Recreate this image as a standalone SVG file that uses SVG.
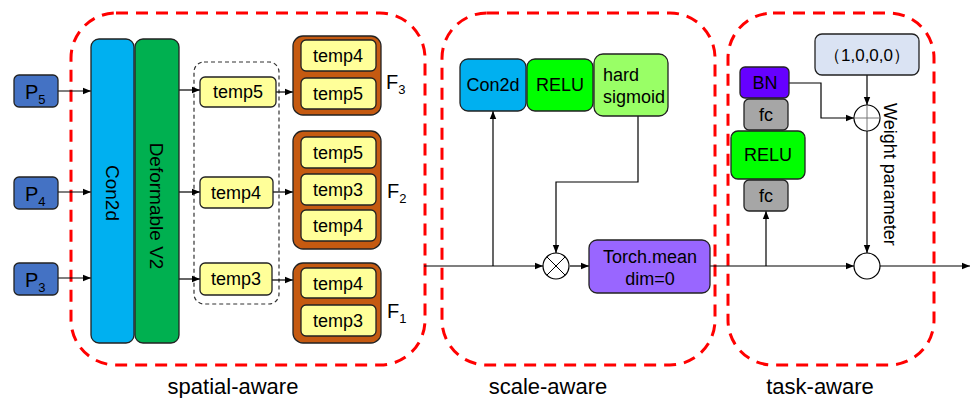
<svg xmlns="http://www.w3.org/2000/svg" width="976" height="398" viewBox="0 0 976 398">
<defs>
<marker id="ah" markerWidth="8" markerHeight="8" refX="8" refY="4" orient="auto" markerUnits="userSpaceOnUse"><path d="M0,0.8 L8,4 L0,7.2 Z" fill="#000"/></marker>
<style>
text{font-family:"Liberation Sans",Arial,sans-serif;fill:#000}
.red{fill:none;stroke:#FF0000;stroke-width:3;stroke-dasharray:12,8}
.box{stroke:#222;stroke-width:1.3}
.p{fill:#4472C4}
.t{fill:#FFFF99}
.br{fill:#C55A11}
.ar{fill:none;stroke:#000;stroke-width:1.2;marker-end:url(#ah)}
.lbl{font-size:22px;text-anchor:middle}
.tt{font-size:18px;text-anchor:middle}
.sub{font-size:13px}
</style>
</defs>
<rect width="976" height="398" fill="#fff"/>
<g id="regions">
<rect class="red" x="71" y="13" width="354" height="352" rx="45"/>
<rect class="red" x="442" y="13" width="273" height="352" rx="45"/>
<rect class="red" x="728" y="13" width="206" height="352" rx="45"/>
<rect x="194" y="62" width="85" height="242" rx="10" fill="none" stroke="#333" stroke-width="1.2" stroke-dasharray="4,3"/>
<text class="lbl" x="233" y="394">spatial-aware</text>
<text class="lbl" x="548" y="394">scale-aware</text>
<text class="lbl" x="820" y="394">task-aware</text>
</g>
<g id="connectors">
<line class="ar" x1="58" y1="91" x2="91" y2="91"/>
<line class="ar" x1="58" y1="192" x2="91" y2="192"/>
<line class="ar" x1="58" y1="278" x2="91" y2="278"/>
<line class="ar" x1="179" y1="90" x2="200" y2="90"/>
<line class="ar" x1="179" y1="192" x2="200" y2="192"/>
<line class="ar" x1="179" y1="279" x2="200" y2="279"/>
<line class="ar" x1="276" y1="92" x2="293" y2="92"/>
<line class="ar" x1="273" y1="192" x2="293" y2="192"/>
<line class="ar" x1="272" y1="280" x2="293" y2="280"/>
<line class="ar" x1="424" y1="266" x2="543" y2="266"/>
<line class="ar" x1="493" y1="266" x2="493" y2="111"/>
<polyline class="ar" points="638,116 638,182 556,182 556,253"/>
<line class="ar" x1="570" y1="266" x2="589" y2="266"/>
<line class="ar" x1="710" y1="266" x2="854" y2="266"/>
<line class="ar" x1="766" y1="266" x2="766" y2="211"/>
<polyline class="ar" points="789,83 821,83 821,118 854,118"/>
<line class="ar" x1="867" y1="75" x2="867" y2="105"/>
<line class="ar" x1="867" y1="131" x2="867" y2="253"/>
<line class="ar" x1="880" y1="266" x2="970" y2="266"/>
</g>
<g id="P5"><rect class="box p" x="14" y="75" width="44" height="32" rx="5"/><text x="25" y="99" font-size="20">P<tspan class="sub" dy="5">5</tspan></text></g>
<g id="P4"><rect class="box p" x="14" y="177" width="44" height="32" rx="5"/><text x="25" y="201" font-size="20">P<tspan class="sub" dy="5">4</tspan></text></g>
<g id="P3"><rect class="box p" x="14" y="263" width="44" height="32" rx="5"/><text x="25" y="287" font-size="20">P<tspan class="sub" dy="5">3</tspan></text></g>
<g id="con2d"><rect class="box" x="91" y="39" width="43" height="304" rx="8" fill="#00B0F0"/><text font-size="19" text-anchor="middle" transform="translate(106,193) rotate(90)">Con2d</text></g>
<g id="deform"><rect class="box" x="135" y="39" width="44" height="304" rx="8" fill="#00B050"/><text font-size="19" text-anchor="middle" transform="translate(150,206) rotate(90)">Deformable V2</text></g>
<g id="temp5"><rect class="box t" x="200" y="77" width="76" height="30" rx="5"/><text class="tt" x="238" y="98">temp5</text></g>
<g id="temp4"><rect class="box t" x="200" y="177" width="73" height="31" rx="5"/><text class="tt" x="236" y="199">temp4</text></g>
<g id="temp3"><rect class="box t" x="200" y="263" width="72" height="32" rx="5"/><text class="tt" x="236" y="285">temp3</text></g>
<g id="F3">
<rect class="box br" x="293" y="36" width="88" height="79" rx="10"/>
<rect class="box t" x="301" y="40" width="75" height="31" rx="5"/><text class="tt" x="338" y="62">temp4</text>
<rect class="box t" x="301" y="78" width="75" height="31" rx="5"/><text class="tt" x="338" y="100">temp5</text>
<text x="386" y="89" font-size="20">F<tspan class="sub" dy="5">3</tspan></text>
</g>
<g id="F2">
<rect class="box br" x="293" y="131" width="88" height="118" rx="10"/>
<rect class="box t" x="301" y="137" width="75" height="31" rx="5"/><text class="tt" x="338" y="159">temp5</text>
<rect class="box t" x="301" y="174" width="75" height="31" rx="5"/><text class="tt" x="338" y="196">temp3</text>
<rect class="box t" x="301" y="210" width="75" height="31" rx="5"/><text class="tt" x="338" y="232">temp4</text>
<text x="387" y="198" font-size="20">F<tspan class="sub" dy="5">2</tspan></text>
</g>
<g id="F1">
<rect class="box br" x="293" y="263" width="88" height="80" rx="10"/>
<rect class="box t" x="301" y="268" width="75" height="30" rx="5"/><text class="tt" x="338" y="290">temp4</text>
<rect class="box t" x="301" y="305" width="75" height="31" rx="5"/><text class="tt" x="338" y="327">temp3</text>
<text x="387" y="318" font-size="20">F<tspan class="sub" dy="5">1</tspan></text>
</g>
<g id="s-con2d"><rect class="box" x="460" y="59" width="66" height="52" rx="8" fill="#00B0F0"/><text class="tt" x="493" y="91">Con2d</text></g>
<g id="s-relu"><rect class="box" x="527" y="59" width="66" height="52" rx="8" fill="#00FF00"/><text class="tt" x="560" y="91">RELU</text></g>
<g id="s-hsig"><rect class="box" x="594" y="54" width="74" height="62" rx="9" fill="#99FF66"/><text x="603" y="81" font-size="18">hard</text><text x="603" y="103" font-size="18">sigmoid</text></g>
<g id="mult"><circle cx="556" cy="266" r="13" fill="#fff" stroke="#000" stroke-width="1.2"/><path d="M546.8,256.8 L565.2,275.2 M565.2,256.8 L546.8,275.2" stroke="#000" stroke-width="1"/></g>
<g id="torchmean"><rect class="box" x="589" y="240" width="121" height="53" rx="8" fill="#9966FF"/><text class="tt" x="650" y="263">Torch.mean</text><text class="tt" x="650" y="285">dim=0</text></g>
<g id="vec"><rect class="box" x="815" y="34" width="104" height="41" rx="7" fill="#DAE3F3"/><text x="867" y="61" font-size="17" text-anchor="middle" font-family="'Liberation Sans','Noto Sans CJK SC',sans-serif">（1,0,0,0）</text></g>
<g id="bn"><rect class="box" x="740" y="67" width="49" height="31" rx="5" fill="#6600FF"/><text class="tt" x="765" y="89">BN</text></g>
<g id="fc1"><rect class="box" x="744" y="99" width="44" height="31" rx="5" fill="#A6A6A6"/><text class="tt" x="766" y="121">fc</text></g>
<g id="t-relu"><rect class="box" x="731" y="131" width="74" height="48" rx="7" fill="#00FF00"/><text class="tt" x="768" y="161">RELU</text></g>
<g id="fc2"><rect class="box" x="744" y="180" width="44" height="31" rx="5" fill="#A6A6A6"/><text class="tt" x="766" y="202">fc</text></g>
<g id="add"><circle cx="867" cy="118" r="13" fill="#fff" stroke="#000" stroke-width="1.2"/><path d="M854,118 H880 M867,105 V131" stroke="#777" stroke-width="1"/></g>
<g id="sum"><circle cx="867" cy="266" r="13" fill="#fff" stroke="#000" stroke-width="1.2"/></g>
<text font-size="18" transform="translate(884,103) rotate(90)">Weight parameter</text>
</svg>
